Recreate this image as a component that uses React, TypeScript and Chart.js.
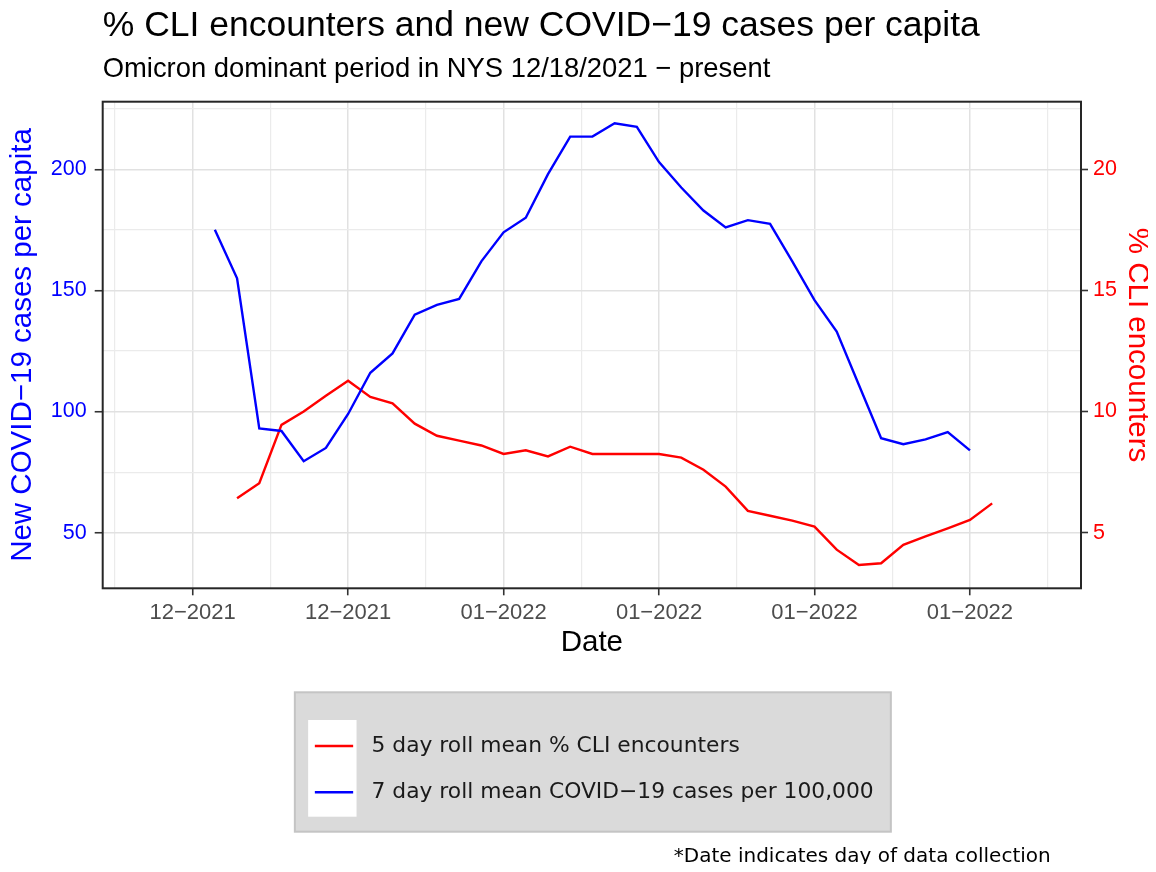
import React, { useEffect, useRef } from "react";
import { Chart, registerables } from "chart.js";

Chart.register(...registerables);

// ---------- data ----------
const DATES = [
  "2021-12-20", "2021-12-21", "2021-12-22", "2021-12-23", "2021-12-24", "2021-12-25",
  "2021-12-26", "2021-12-27", "2021-12-28", "2021-12-29", "2021-12-30", "2021-12-31",
  "2022-01-01", "2022-01-02", "2022-01-03", "2022-01-04", "2022-01-05", "2022-01-06",
  "2022-01-07", "2022-01-08", "2022-01-09", "2022-01-10", "2022-01-11", "2022-01-12",
  "2022-01-13", "2022-01-14", "2022-01-15", "2022-01-16", "2022-01-17", "2022-01-18",
  "2022-01-19", "2022-01-20", "2022-01-21", "2022-01-22", "2022-01-23", "2022-01-24",
];

// 7 day roll mean COVID-19 cases per 100,000 (left axis)
const CASES = [
  175, 155, 93, 92, 79.5, 85, 99, 116, 124, 140, 144, 146.5,
  162, 174, 180, 198, 213.5, 213.5, 219, 217.5, 203, 192.5, 183, 176,
  179, 177.5, 162, 146, 133, 111, 89, 86.5, 88.5, 91.5, 84, null,
];

// 5 day roll mean % CLI encounters (right axis)
const CLI = [
  null, 6.42, 7.04, 9.45, 10.0, 10.65, 11.27, 10.6, 10.34, 9.5, 9.0, 8.8,
  8.6, 8.25, 8.4, 8.15, 8.55, 8.25, 8.25, 8.25, 8.25, 8.1, 7.6, 6.9,
  5.9, 5.7, 5.5, 5.25, 4.3, 3.67, 3.74, 4.5, 4.85, 5.18, 5.53, 6.21,
];

const X_TICK_DATES = ["2021-12-19", "2021-12-26", "2022-01-02", "2022-01-09", "2022-01-16", "2022-01-23"];
const X_TICK_LABELS = ["12\u22122021", "12\u22122021", "01\u22122022", "01\u22122022", "01\u22122022", "01\u22122022"];
const LEFT_TICKS = [50, 100, 150, 200];
const RIGHT_TICKS = [5, 10, 15, 20];

const TITLE = "% CLI encounters and new COVID\u221219 cases per capita";
const SUBTITLE = "Omicron dominant period in NYS 12/18/2021 \u2212 present";
const X_TITLE = "Date";
const LEFT_TITLE = "New COVID\u221219 cases per capita";
const RIGHT_TITLE = "% CLI encounters";
const LEGEND_LABELS = ["5 day roll mean % CLI encounters", "7 day roll mean COVID\u221219 cases per 100,000"];
const FOOTNOTE = "*Date indicates day of data collection";

// ---------- helpers ----------
const ORIGIN = Date.UTC(2021, 11, 19);
const dayOf = (s: string) => {
  const [y, m, d] = s.split("-").map(Number);
  return (Date.UTC(y, m - 1, d) - ORIGIN) / 86400000;
};

const X_MIN = -4.05;
const X_MAX = 40.0;
const L_MIN = 27.05;
const L_MAX = 227.9;
const R_MIN = L_MIN / 10;
const R_MAX = L_MAX / 10;

const X_MAJOR = X_TICK_DATES.map(dayOf);
const withMinor = (major: number[], lo: number, hi: number) => {
  const step = major[1] - major[0];
  const out: number[] = [];
  const all = [major[0] - step, ...major, major[major.length - 1] + step];
  for (let i = 0; i < all.length; i++) {
    out.push(all[i]);
    if (i < all.length - 1) out.push((all[i] + all[i + 1]) / 2);
  }
  return out.filter((v) => v >= lo && v <= hi);
};
const X_ALL = withMinor(X_MAJOR, X_MIN, X_MAX);
const L_ALL = withMinor(LEFT_TICKS, L_MIN, L_MAX);

const isIn = (arr: number[], v: number) => arr.some((a) => Math.abs(a - v) < 1e-6);

const SANS = "'Liberation Sans', Arial, Helvetica, sans-serif";
const WIDE = "'DejaVu Sans', Verdana, sans-serif";
const MAJOR_GRID = "#e1e1e1";
const MINOR_GRID = "#ebebeb";
const TICK_COLOR = "#333333";

const CANVAS_W = 1140;
const CANVAS_H = 864;

const decorPlugin = {
  id: "decor",
  afterDraw(chart: any) {
    const { ctx, chartArea: a } = chart;
    ctx.save();
    // panel border
    ctx.strokeStyle = "#262626";
    ctx.lineWidth = 2;
    ctx.strokeRect(a.left, a.top, a.right - a.left, a.bottom - a.top);

    // legend box
    const cx = (a.left + a.right) / 2;
    const bw = 596;
    const bh = 139.4;
    const bx = cx - 297;
    const by = a.bottom + 104;
    ctx.fillStyle = "#dadada";
    ctx.fillRect(bx, by, bw, bh);
    ctx.strokeStyle = "#c4c4c4";
    ctx.lineWidth = 2;
    ctx.strokeRect(bx, by, bw, bh);
    ctx.fillStyle = "#ffffff";
    ctx.fillRect(bx + 13.3, by + 27.7, 48.4, 96.7);

    const items = [
      { color: "red", label: LEGEND_LABELS[0], y: by + 53.7 },
      { color: "blue", label: LEGEND_LABELS[1], y: by + 100 },
    ];
    ctx.font = `21.8px ${WIDE}`;
    ctx.textBaseline = "middle";
    ctx.textAlign = "left";
    for (const it of items) {
      ctx.strokeStyle = it.color;
      ctx.lineWidth = 2.5;
      ctx.beginPath();
      ctx.moveTo(bx + 20, it.y);
      ctx.lineTo(bx + 58.3, it.y);
      ctx.stroke();
      ctx.fillStyle = "#1a1a1a";
      ctx.fillText(it.label, bx + 76.7, it.y);
    }

    // footnote
    ctx.font = `20px ${WIDE}`;
    ctx.fillStyle = "#000000";
    ctx.textAlign = "right";
    ctx.fillText(FOOTNOTE, 1042.7, 849);
    ctx.restore();
  },
};

export default function App() {
  const ref = useRef<HTMLCanvasElement>(null);

  useEffect(() => {
    if (!ref.current) return;
    const xs = DATES.map(dayOf);
    const chart = new Chart(ref.current, {
      type: "line",
      data: {
        datasets: [
          {
            label: LEGEND_LABELS[1],
            data: xs.map((x, i) => ({ x, y: CASES[i] })) as any,
            borderColor: "blue",
            borderWidth: 2.4,
            pointRadius: 0,
            tension: 0,
            yAxisID: "y",
          },
          {
            label: LEGEND_LABELS[0],
            data: xs.map((x, i) => ({ x, y: CLI[i] })) as any,
            borderColor: "red",
            borderWidth: 2.4,
            pointRadius: 0,
            tension: 0,
            yAxisID: "y1",
          },
        ],
      },
      options: {
        animation: false,
        responsive: false,
        devicePixelRatio: 1,
        events: [],
        layout: { padding: { left: 0, right: 0, top: 0, bottom: 214.25 } },
        plugins: {
          legend: { display: false },
          tooltip: { enabled: false },
          title: {
            display: true,
            text: TITLE,
            align: "start",
            fullSize: false,
            color: "#000000",
            font: { family: SANS, size: 35.5, weight: "normal", lineHeight: 1 },
            padding: { top: 0, bottom: 6 },
          },
          subtitle: {
            display: true,
            text: SUBTITLE,
            align: "start",
            fullSize: false,
            color: "#000000",
            font: { family: SANS, size: 27.4, weight: "normal", lineHeight: 1 },
            padding: { top: 6.3, bottom: 18.5 },
          },
        },
        scales: {
          x: {
            type: "linear",
            min: X_MIN,
            max: X_MAX,
            afterBuildTicks: (scale: any) => {
              scale.ticks = X_ALL.map((v) => ({ value: v }));
            },
            afterFit: (scale: any) => {
              scale.height = 69.45;
            },
            border: { display: false },
            grid: {
              color: (c: any) => (c.tick && isIn(X_MAJOR, c.tick.value) ? MAJOR_GRID : MINOR_GRID),
              lineWidth: (c: any) => (c.tick && isIn(X_MAJOR, c.tick.value) ? 1.5 : 1.2),
              tickColor: (c: any) => (c.tick && isIn(X_MAJOR, c.tick.value) ? TICK_COLOR : "rgba(0,0,0,0)"),
              tickWidth: 1.6,
              tickLength: 7,
            },
            ticks: {
              autoSkip: false,
              maxRotation: 0,
              minRotation: 0,
              padding: 4,
              color: "#4d4d4d",
              font: { family: SANS, size: 22, lineHeight: 1.2 },
              callback: (v: any) => {
                const i = X_MAJOR.findIndex((m) => Math.abs(m - Number(v)) < 1e-6);
                return i >= 0 ? X_TICK_LABELS[i] : "";
              },
            },
            title: {
              display: true,
              text: X_TITLE,
              color: "#000000",
              font: { family: SANS, size: 29.5, lineHeight: 1 },
              padding: { top: 0, bottom: 0 },
            },
          },
          y: {
            type: "linear",
            position: "left",
            min: L_MIN,
            max: L_MAX,
            afterBuildTicks: (scale: any) => {
              scale.ticks = L_ALL.map((v) => ({ value: v }));
            },
            afterFit: (scale: any) => {
              scale.width = 94.7;
            },
            border: { display: false },
            grid: {
              color: (c: any) => (c.tick && isIn(LEFT_TICKS, c.tick.value) ? MAJOR_GRID : MINOR_GRID),
              lineWidth: (c: any) => (c.tick && isIn(LEFT_TICKS, c.tick.value) ? 1.5 : 1.2),
              tickColor: (c: any) => (c.tick && isIn(LEFT_TICKS, c.tick.value) ? TICK_COLOR : "rgba(0,0,0,0)"),
              tickWidth: 1.6,
              tickLength: 8,
            },
            ticks: {
              padding: 8,
              color: "blue",
              font: { family: SANS, size: 21.5, lineHeight: 1.2 },
              callback: (v: any) => (isIn(LEFT_TICKS, Number(v)) ? String(v) : ""),
            },
            title: {
              display: true,
              text: LEFT_TITLE,
              color: "blue",
              font: { family: SANS, size: 29.5, lineHeight: 1 },
              padding: { top: 0, bottom: 0 },
            },
          },
          y1: {
            type: "linear",
            position: "right",
            min: R_MIN,
            max: R_MAX,
            afterBuildTicks: (scale: any) => {
              scale.ticks = RIGHT_TICKS.map((v) => ({ value: v }));
            },
            afterFit: (scale: any) => {
              scale.width = 67;
            },
            border: { display: false },
            grid: {
              drawOnChartArea: false,
              tickColor: TICK_COLOR,
              tickWidth: 1.6,
              tickLength: 7,
            },
            ticks: {
              padding: 5,
              color: "red",
              font: { family: SANS, size: 21.5, lineHeight: 1.2 },
              callback: (v: any) => String(v),
            },
            title: {
              display: true,
              text: RIGHT_TITLE,
              color: "red",
              font: { family: SANS, size: 29.5, lineHeight: 1 },
              padding: { top: -4, bottom: 0 },
            },
          },
        },
      } as any,
      plugins: [decorPlugin],
    });
    return () => chart.destroy();
  }, []);

  return (
    <canvas
      ref={ref}
      width={CANVAS_W}
      height={CANVAS_H}
      style={{ display: "block", width: `${CANVAS_W}px`, height: `${CANVAS_H}px`, marginBottom: "-8px" }}
    />
  );
}
